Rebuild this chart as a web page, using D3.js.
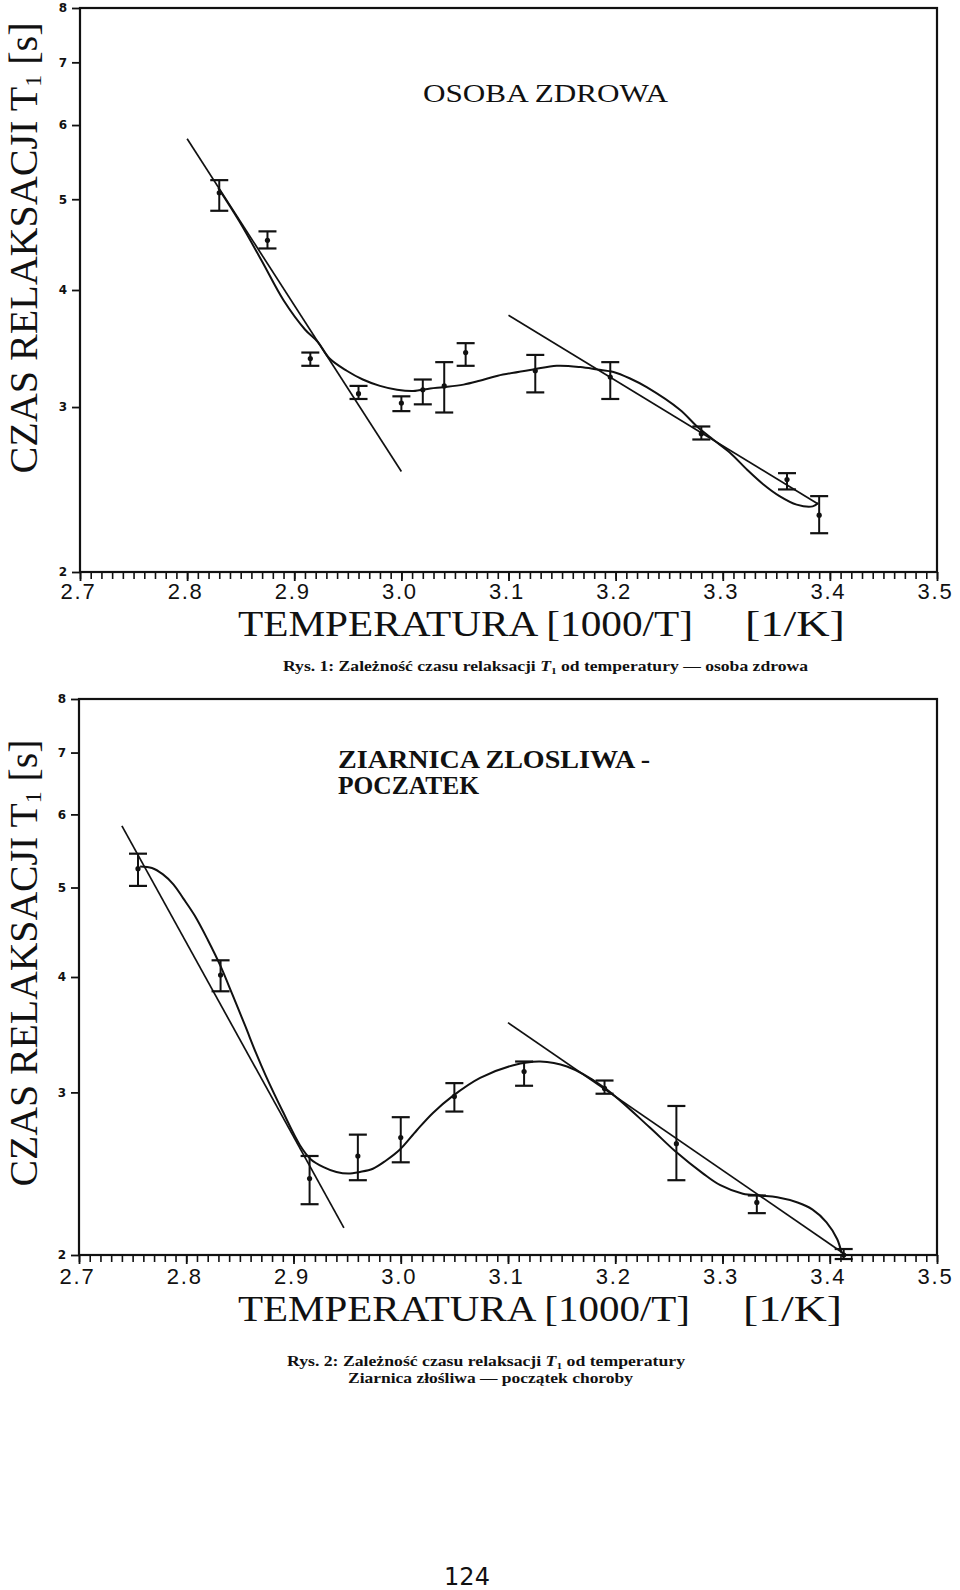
<!DOCTYPE html>
<html><head><meta charset="utf-8">
<script src="https://cdn.jsdelivr.net/npm/d3@7"></script>
<style>
body{margin:0;background:#fff;}
svg{display:block;background:#fff;}
</style></head><body>
<svg id="chart" width="960" height="1590"></svg>
<script>
// ---------------- data ----------------
const xTickValues = [2.7, 2.8, 2.9, 3.0, 3.1, 3.2, 3.3, 3.4, 3.5];
const xTickLabels = ["2.7", "2.8", "2.9", "3.0", "3.1", "3.2", "3.3", "3.4", "3.5"];
const yTickValues = [2, 3, 4, 5, 6, 7, 8];
const yTickLabels = ["2", "3", "4", "5", "6", "7", "8"];

// Rys. 1 - osoba zdrowa
const p1X  = [2.83, 2.875, 2.915, 2.96, 3.00, 3.02, 3.04, 3.06, 3.125, 3.195, 3.28, 3.36, 3.39];
const p1Y  = [5.08, 4.52, 3.38, 3.10, 3.03, 3.13, 3.16, 3.43, 3.28, 3.23, 2.81, 2.51, 2.30];
const p1Lo = [4.86, 4.43, 3.32, 3.06, 2.97, 3.02, 2.96, 3.32, 3.11, 3.06, 2.77, 2.45, 2.20];
const p1Hi = [5.24, 4.62, 3.43, 3.16, 3.08, 3.21, 3.35, 3.51, 3.41, 3.35, 2.86, 2.55, 2.41];
const p1LineAX = [2.80, 3.00];
const p1LineAY = [5.80, 2.56];
const p1LineBX = [3.10, 3.389];
const p1LineBY = [3.76, 2.364];
const p1CurveX = [2.829, 2.849, 2.870, 2.890, 2.910, 2.922, 2.933, 2.949, 2.964, 2.980, 2.996, 3.011, 3.027, 3.039, 3.058, 3.073, 3.090, 3.123, 3.145, 3.167, 3.183, 3.198, 3.213, 3.229, 3.260, 3.276, 3.291, 3.307, 3.323, 3.338, 3.353, 3.369, 3.384, 3.389];
const p1CurveY = [5.14, 4.73, 4.29, 3.90, 3.63, 3.52, 3.38, 3.28, 3.21, 3.16, 3.13, 3.12, 3.14, 3.15, 3.17, 3.20, 3.24, 3.29, 3.32, 3.31, 3.29, 3.27, 3.22, 3.15, 2.98, 2.86, 2.77, 2.68, 2.57, 2.48, 2.41, 2.36, 2.35, 2.37];

// Rys. 2 - ziarnica zlosliwa, poczatek
const p2X  = [2.755, 2.832, 2.915, 2.96, 3.00, 3.05, 3.115, 3.19, 3.257, 3.332, 3.413];
const p2Y  = [5.24, 4.02, 2.42, 2.56, 2.68, 2.97, 3.16, 3.03, 2.64, 2.28, 2.00];
const p2Lo = [5.02, 3.86, 2.27, 2.41, 2.52, 2.86, 3.05, 2.99, 2.41, 2.22, 1.98];
const p2Hi = [5.44, 4.17, 2.56, 2.70, 2.82, 3.07, 3.24, 3.09, 2.90, 2.32, 2.03];
const p2LineAX = [2.74, 2.947];
const p2LineAY = [5.83, 2.14];
const p2LineBX = [3.10, 3.415];
const p2LineBY = [3.57, 2.00];
const p2CurveX = [2.757, 2.768, 2.778, 2.788, 2.797, 2.808, 2.820, 2.832, 2.843, 2.855, 2.865, 2.874, 2.890, 2.906, 2.916, 2.928, 2.940, 2.951, 2.962, 2.974, 2.986, 2.999, 3.015, 3.030, 3.048, 3.074, 3.105, 3.130, 3.155, 3.189, 3.232, 3.256, 3.282, 3.298, 3.319, 3.335, 3.351, 3.370, 3.384, 3.397, 3.407, 3.411];
const p2CurveY = [5.27, 5.25, 5.17, 5.04, 4.87, 4.66, 4.39, 4.11, 3.83, 3.54, 3.31, 3.13, 2.86, 2.63, 2.54, 2.49, 2.46, 2.45, 2.46, 2.48, 2.53, 2.60, 2.73, 2.85, 2.97, 3.11, 3.21, 3.24, 3.20, 3.04, 2.75, 2.59, 2.45, 2.38, 2.33, 2.32, 2.31, 2.28, 2.24, 2.17, 2.08, 2.01];

// ---------------- drawing ----------------
const svg = d3.select("#chart");
const serif = "'Liberation Serif','DejaVu Serif','Times New Roman',serif";
const ink = "#111";

function drawPanel(cfg) {
  const g = svg.append("g");
  const x = d3.scaleLinear().domain([xTickValues[0], xTickValues[xTickValues.length - 1]]).range([cfg.left, cfg.right]);
  const y = d3.scaleLog().domain([yTickValues[0], yTickValues[yTickValues.length - 1]]).range([cfg.bottom, cfg.top]);

  // minor x ticks (every 0.01)
  const minor = d3.range(0, 81).map(i => +(2.7 + i * 0.01).toFixed(2));
  g.append("g").attr("transform", `translate(0,${cfg.bottom})`)
    .call(d3.axisBottom(x).tickValues(minor).tickSize(7).tickFormat("").tickSizeOuter(0))
    .call(a => { a.select(".domain").remove(); a.selectAll("line").attr("stroke", ink).attr("stroke-width", 1.6); });

  // major x ticks + labels
  g.append("g").attr("transform", `translate(0,${cfg.bottom})`)
    .call(d3.axisBottom(x).tickValues(xTickValues).tickSize(9).tickPadding(cfg.xPad)
      .tickFormat((d, i) => xTickLabels[i]).tickSizeOuter(0))
    .call(a => {
      a.select(".domain").remove();
      a.selectAll("line").attr("stroke", ink).attr("stroke-width", 1.8);
      a.selectAll("text").attr("font-family", "'Liberation Sans','DejaVu Sans',sans-serif")
        .attr("font-size", 22).attr("fill", ink).attr("letter-spacing", 1.8).attr("dx", -2);
    });

  // y axis
  g.append("g").attr("transform", `translate(${cfg.left},0)`)
    .call(d3.axisLeft(y).tickValues(yTickValues).tickFormat((d, i) => yTickLabels[i])
      .tickSize(8).tickPadding(5).tickSizeOuter(0))
    .call(a => {
      a.select(".domain").remove();
      a.selectAll("line").attr("stroke", ink).attr("stroke-width", 1.8);
      a.selectAll("text").attr("font-family", "'DejaVu Sans',sans-serif").attr("font-weight", "bold")
        .attr("font-size", 12).attr("fill", ink);
    });

  // frame
  g.append("rect").attr("x", cfg.left).attr("y", cfg.top)
    .attr("width", cfg.right - cfg.left).attr("height", cfg.bottom - cfg.top)
    .attr("fill", "none").attr("stroke", ink).attr("stroke-width", 2.2);

  // fit lines
  const line = d3.line().x(d => x(d[0])).y(d => y(d[1]));
  [[cfg.lineAX, cfg.lineAY], [cfg.lineBX, cfg.lineBY]].forEach(([lx, ly]) => {
    g.append("path").datum(lx.map((v, i) => [v, ly[i]]))
      .attr("d", line).attr("fill", "none").attr("stroke", ink).attr("stroke-width", 1.7);
  });

  // smooth curve
  const curve = d3.line().x(d => x(d[0])).y(d => y(d[1])).curve(d3.curveCatmullRom.alpha(0.5));
  g.append("path").datum(cfg.curveX.map((v, i) => [v, cfg.curveY[i]]))
    .attr("d", curve).attr("fill", "none").attr("stroke", ink).attr("stroke-width", 2);

  // error bars
  const pts = cfg.px.map((v, i) => ({ x: v, y: cfg.py[i], lo: cfg.lo[i], hi: cfg.hi[i] }));
  const eb = g.append("g").selectAll("g").data(pts).join("g");
  eb.append("line").attr("x1", d => x(d.x)).attr("x2", d => x(d.x))
    .attr("y1", d => y(d.lo)).attr("y2", d => y(d.hi)).attr("stroke", ink).attr("stroke-width", 2);
  ["lo", "hi"].forEach(k => {
    eb.append("line").attr("x1", d => x(d.x) - 9).attr("x2", d => x(d.x) + 9)
      .attr("y1", d => y(d[k])).attr("y2", d => y(d[k])).attr("stroke", ink).attr("stroke-width", 2.2);
  });
  eb.append("circle").attr("cx", d => x(d.x)).attr("cy", d => y(d.y)).attr("r", 2.6).attr("fill", ink);

  // y title
  const yt = g.append("text").attr("transform", `translate(37,${cfg.yTitleC}) rotate(-90)`)
    .attr("text-anchor", "middle").attr("font-family", serif).attr("font-size", 40).attr("fill", ink)
    .attr("textLength", cfg.yTitleLen).attr("lengthAdjust", "spacingAndGlyphs");
  yt.append("tspan").text("CZAS RELAKSACJI T");
  yt.append("tspan").attr("font-size", 24).attr("dy", 4).text("1");
  yt.append("tspan").attr("dy", -4).text(" [s]");

  // x title
  g.append("text").attr("x", 238).attr("y", cfg.xTitleY).attr("font-family", serif).attr("font-size", 36)
    .attr("fill", ink).attr("textLength", cfg.xTitleLen1).attr("lengthAdjust", "spacingAndGlyphs")
    .text("TEMPERATURA [1000/T]");
  g.append("text").attr("x", cfg.xTitle2X).attr("y", cfg.xTitleY).attr("font-family", serif).attr("font-size", 36)
    .attr("fill", ink).attr("textLength", cfg.xTitleLen2).attr("lengthAdjust", "spacingAndGlyphs")
    .text("[1/K]");

  // inner title
  cfg.title.forEach(t => {
    g.append("text").attr("x", t.x).attr("y", t.y).attr("font-family", serif).attr("font-size", t.size)
      .attr("font-weight", t.weight).attr("fill", ink)
      .attr("textLength", t.len).attr("lengthAdjust", "spacingAndGlyphs").text(t.text);
  });
  return g;
}

drawPanel({
  left: 80, right: 937, top: 8, bottom: 572, xPad: 2,
  px: p1X, py: p1Y, lo: p1Lo, hi: p1Hi,
  lineAX: p1LineAX, lineAY: p1LineAY, lineBX: p1LineBX, lineBY: p1LineBY,
  curveX: p1CurveX, curveY: p1CurveY,
  yTitleC: 248, yTitleLen: 451,
  xTitleY: 636, xTitleLen1: 455, xTitle2X: 745, xTitleLen2: 100,
  title: [{ text: "OSOBA ZDROWA", x: 423, y: 102, size: 25, weight: "normal", len: 245 }]
});

drawPanel({
  left: 79, right: 937, top: 699, bottom: 1255, xPad: 4,
  px: p2X, py: p2Y, lo: p2Lo, hi: p2Hi,
  lineAX: p2LineAX, lineAY: p2LineAY, lineBX: p2LineBX, lineBY: p2LineBY,
  curveX: p2CurveX, curveY: p2CurveY,
  yTitleC: 963, yTitleLen: 447,
  xTitleY: 1321, xTitleLen1: 452, xTitle2X: 743, xTitleLen2: 99,
  title: [
    { text: "ZIARNICA ZLOSLIWA -", x: 338, y: 768, size: 25, weight: "bold", len: 312 },
    { text: "POCZATEK", x: 338, y: 794, size: 25, weight: "bold", len: 141 }
  ]
});

// captions
function caption(xp, yp, len, parts) {
  const t = svg.append("text").attr("x", xp).attr("y", yp).attr("font-family", serif)
    .attr("font-size", 14).attr("font-weight", "bold").attr("fill", ink)
    .attr("textLength", len).attr("lengthAdjust", "spacingAndGlyphs");
  parts.forEach(p => {
    const s = t.append("tspan").text(p.t);
    if (p.it) s.attr("font-style", "italic");
    if (p.sub) s.attr("font-size", 9).attr("dy", 3);
    if (p.up) s.attr("dy", -3);
  });
}
caption(283, 671, 525, [
  { t: "Rys. 1: Zależność czasu relaksacji " }, { t: "T", it: true }, { t: "1", sub: true },
  { t: " od temperatury — osoba zdrowa", up: true }
]);
caption(287, 1366, 398, [
  { t: "Rys. 2: Zależność czasu relaksacji " }, { t: "T", it: true }, { t: "1", sub: true },
  { t: " od temperatury", up: true }
]);
caption(348, 1383, 285, [{ t: "Ziarnica złośliwa — początek choroby" }]);

// page number
svg.append("text").attr("x", 467).attr("y", 1585).attr("text-anchor", "middle")
  .attr("font-family", "'DejaVu Sans',sans-serif").attr("font-size", 24).attr("fill", ink).text("124");
</script>
</body></html>
